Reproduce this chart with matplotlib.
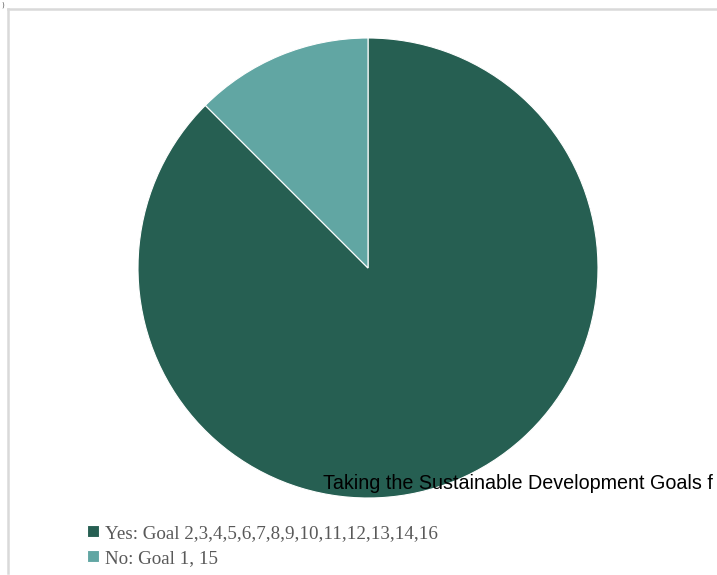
import matplotlib.pyplot as plt
from matplotlib.lines import Line2D

# data
labels = ["Yes: Goal 2,3,4,5,6,7,8,9,10,11,12,13,14,16", "No: Goal 1, 15"]
counts = [14, 2]
colors = ["#265f52", "#61a6a3"]
title = "Taking the Sustainable Development Goals f"

W, H = 717, 575
fig = plt.figure(figsize=(W / 100, H / 100), dpi=100)

# chart frame (only left and top edges visible)
fig.add_artist(Line2D([8 / W, 8 / W], [1 - 573 / H, 1 - 9 / H], color="#d9d9d9", lw=1.8))
fig.add_artist(Line2D([8 / W, 1], [1 - 9 / H, 1 - 9 / H], color="#d9d9d9", lw=1.8))

# pie: centre (368, 268) px, radius 230 px
cx, cy, r = 368, 268, 230
ax = fig.add_axes([(cx - r) / W, (H - cy - r) / H, 2 * r / W, 2 * r / H])
wedges, _ = ax.pie(counts, colors=colors, startangle=90, counterclock=False,
                   wedgeprops=dict(edgecolor="white", linewidth=0.8))
ax.set_xlim(-1, 1)
ax.set_ylim(-1, 1)
ax.set_aspect("equal")
ax.axis("off")

fig.text(323 / W, (H - 489) / H, title, fontsize=14.2, family="Liberation Sans",
         color="black", va="baseline", ha="left")

fig.text(1 / W, 1 - 1 / H, ")", fontsize=5, color="#555555", va="top", ha="left")

leg = fig.legend(wedges, labels, loc="upper left", bbox_to_anchor=(87 / W, 1 - 525 / H),
                 frameon=False, borderpad=0, borderaxespad=0,
                 handlelength=0.62, handleheight=0.62, handletextpad=0.3,
                 labelspacing=0.4,
                 prop=dict(family="Liberation Serif", size=13.7))
for t in leg.get_texts():
    t.set_color("#595959")

fig.savefig("out.png", dpi=100)
